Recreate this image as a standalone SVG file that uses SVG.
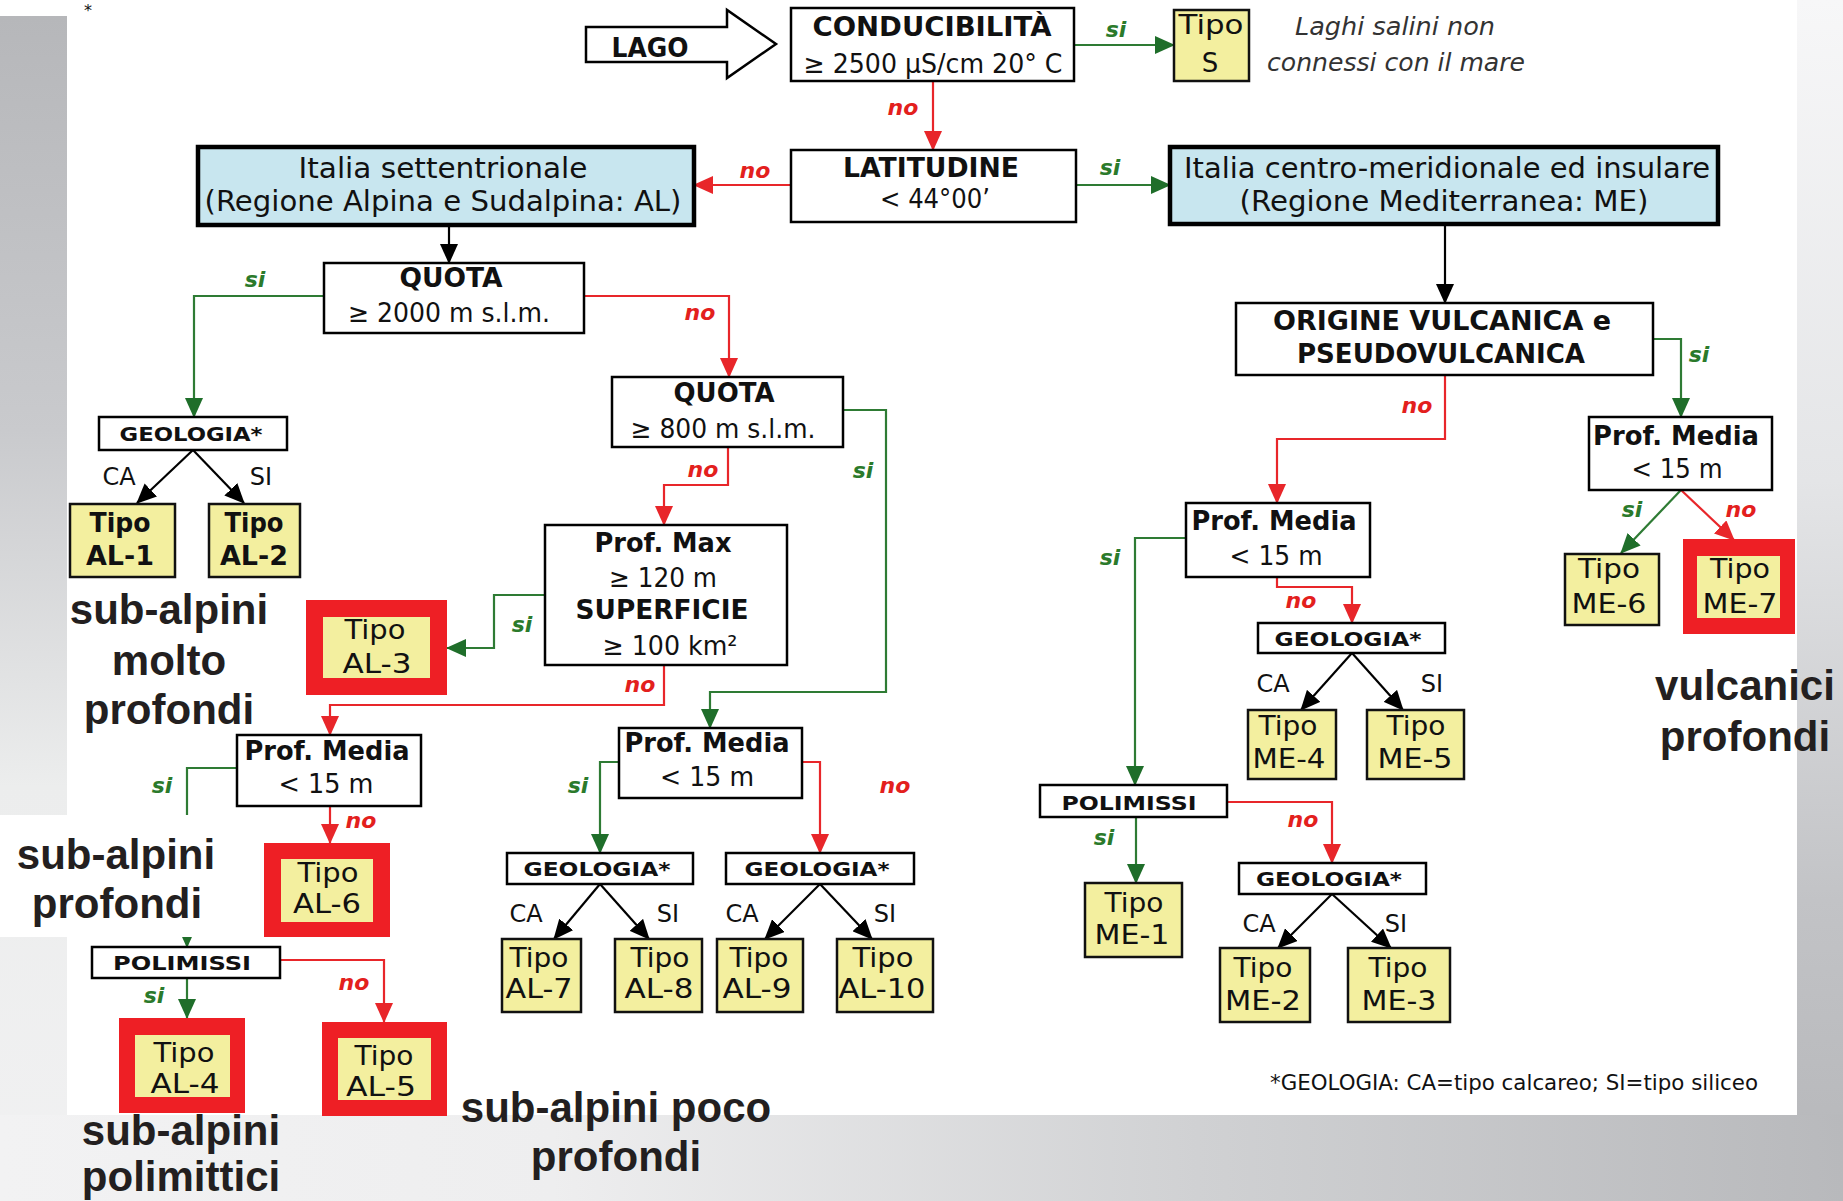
<svg xmlns="http://www.w3.org/2000/svg" width="1843" height="1201" viewBox="0 0 1843 1201">
<defs>
<linearGradient id="gl" x1="0" y1="16" x2="0" y2="1201" gradientUnits="userSpaceOnUse">
<stop offset="0" stop-color="#b6b7ba"/><stop offset="0.35" stop-color="#c9cacd"/><stop offset="0.65" stop-color="#eceded"/><stop offset="1" stop-color="#f1f1f2"/>
</linearGradient>
<linearGradient id="gr" x1="0" y1="0" x2="0" y2="1201" gradientUnits="userSpaceOnUse">
<stop offset="0" stop-color="#f7f7f8"/><stop offset="0.4" stop-color="#e4e5e7"/><stop offset="0.75" stop-color="#c2c3c6"/><stop offset="1" stop-color="#b5b6b9"/>
</linearGradient>
<linearGradient id="gb" x1="0" y1="0" x2="1843" y2="0" gradientUnits="userSpaceOnUse">
<stop offset="0" stop-color="#f2f2f3"/><stop offset="0.3" stop-color="#eeeeef"/><stop offset="0.65" stop-color="#d0d1d3"/><stop offset="1" stop-color="#b8b9bc"/>
</linearGradient>
<marker id="ag" markerUnits="userSpaceOnUse" markerWidth="20" markerHeight="18" viewBox="0 0 20 18" refX="19" refY="9" orient="auto"><path d="M0,0L20,9L0,18z" fill="#1f6e2a"/></marker>
<marker id="ar" markerUnits="userSpaceOnUse" markerWidth="20" markerHeight="18" viewBox="0 0 20 18" refX="19" refY="9" orient="auto"><path d="M0,0L20,9L0,18z" fill="#e8262a"/></marker>
<marker id="ak" markerUnits="userSpaceOnUse" markerWidth="20" markerHeight="18" viewBox="0 0 20 18" refX="19" refY="9" orient="auto"><path d="M0,0L20,9L0,18z" fill="#000"/></marker>
</defs>
<style>
.box{fill:#fff;stroke:#000;stroke-width:2.5}
.blue{fill:#c8e6ef;stroke:#000;stroke-width:4.5}
.yel{fill:#f3ef9f;stroke:#111;stroke-width:2.5}
.yin{fill:#f3ef9f}
.redb{fill:#ee1f25}
.t{font-family:"DejaVu Sans",Verdana,sans-serif;font-size:26px;fill:#111;text-anchor:middle}
.b{font-weight:bold}
.it{font-style:italic;fill:#333;font-size:24px}
.tp{font-size:27px}
.sm{font-size:20px;font-weight:bold}
.ca{font-size:24px}
.ft{font-size:21px}
.big{font-size:28px}
.si{font-family:"DejaVu Sans",Verdana,sans-serif;font-weight:bold;font-style:italic;font-size:22px;fill:#2b7a2b;text-anchor:middle}
.no{font-family:"DejaVu Sans",Verdana,sans-serif;font-weight:bold;font-style:italic;font-size:22px;fill:#e3201d;text-anchor:middle}
.g{stroke:#2e7b34;stroke-width:2.2;fill:none;marker-end:url(#ag)}
.r{stroke:#e8262a;stroke-width:2.2;fill:none;marker-end:url(#ar)}
.k{stroke:#000;stroke-width:2.2;fill:none;marker-end:url(#ak)}
.lab{font-family:"Liberation Sans",Arial,sans-serif;font-weight:bold;font-size:42px;fill:#231f20;text-anchor:middle}
</style>
<!-- background -->
<rect x="0" y="0" width="1843" height="1201" fill="#ffffff"/>
<rect x="0" y="16" width="67" height="1185" fill="url(#gl)"/>
<rect x="1797" y="0" width="46" height="1201" fill="url(#gr)"/>
<rect x="0" y="1115" width="1843" height="86" fill="url(#gb)"/>
<text x="88" y="16" font-family="DejaVu Sans,sans-serif" font-size="16" fill="#111" text-anchor="middle">*</text>

<g id="connectors">
<path class="g" d="M1074,45H1174"/>
<path class="r" d="M933,81V150"/>
<path class="g" d="M1076,185H1170"/>
<path class="r" d="M791,185H694"/>
<path class="k" d="M449,225V263"/>
<path class="k" d="M1445,224V303"/>
<path class="g" d="M324,296H194V417"/>
<path class="r" d="M584,296H729V377"/>
<path class="k" d="M193,450L137,503"/>
<path class="k" d="M193,450L244,503"/>
<path class="r" d="M728,447V485H664V525"/>
<path class="g" d="M843,410H886V692H710V728"/>
<path class="g" d="M545,595H494V648H447"/>
<path class="r" d="M664,665V705H330V735"/>
<path class="g" d="M237,768H187V947"/>
<path class="r" d="M330,806V843"/>
<path class="g" d="M187,978V1018"/>
<path class="r" d="M280,960H384V1022"/>
<path class="g" d="M619,762H600V853"/>
<path class="r" d="M802,762H820V853"/>
<path class="k" d="M600,884L554,939"/>
<path class="k" d="M600,884L649,939"/>
<path class="k" d="M820,884L765,939"/>
<path class="k" d="M820,884L872,939"/>
<path class="g" d="M1653,339H1681V417"/>
<path class="r" d="M1445,375V439H1277V503"/>
<path class="g" d="M1681,490L1621,553"/>
<path class="r" d="M1681,490L1734,540"/>
<path class="g" d="M1186,538H1135V785"/>
<path class="r" d="M1277,577V587H1352V623"/>
<path class="k" d="M1352,653L1301,710"/>
<path class="k" d="M1352,653L1403,710"/>
<path class="g" d="M1136,817V883"/>
<path class="r" d="M1227,802H1332V863"/>
<path class="k" d="M1332,894L1278,948"/>
<path class="k" d="M1332,894L1391,948"/>
<text class="si" x="1116" y="37">si</text>
<text class="no" x="903" y="115">no</text>
<text class="si" x="1110" y="175">si</text>
<text class="no" x="755" y="178">no</text>
<text class="si" x="255" y="287">si</text>
<text class="no" x="700" y="320">no</text>
<text class="no" x="703" y="477">no</text>
<text class="si" x="863" y="478">si</text>
<text class="si" x="522" y="632">si</text>
<text class="no" x="640" y="692">no</text>
<text class="si" x="162" y="793">si</text>
<text class="no" x="361" y="828">no</text>
<text class="si" x="154" y="1003">si</text>
<text class="no" x="354" y="990">no</text>
<text class="si" x="578" y="793">si</text>
<text class="no" x="895" y="793">no</text>
<text class="si" x="1699" y="362">si</text>
<text class="no" x="1417" y="413">no</text>
<text class="si" x="1632" y="517">si</text>
<text class="no" x="1741" y="517">no</text>
<text class="si" x="1110" y="565">si</text>
<text class="no" x="1301" y="608">no</text>
<text class="si" x="1104" y="845">si</text>
<text class="no" x="1303" y="827">no</text>
<text class="t ca" x="119" y="485">CA</text>
<text class="t ca" x="261" y="485">SI</text>
<text class="t ca" x="526" y="922">CA</text>
<text class="t ca" x="668" y="922">SI</text>
<text class="t ca" x="742" y="922">CA</text>
<text class="t ca" x="885" y="922">SI</text>
<text class="t ca" x="1273" y="692">CA</text>
<text class="t ca" x="1432" y="692">SI</text>
<text class="t ca" x="1259" y="932">CA</text>
<text class="t ca" x="1396" y="932">SI</text>
</g>

<!-- white label backing -->
<rect x="0" y="815" width="262" height="122" fill="#ffffff"/>

<g id="lago">
<polygon points="586,27 727,27 727,10 776,44 727,78 727,62 586,62" fill="#fff" stroke="#000" stroke-width="2.5"/>
<text class="t b" x="650" y="57" font-size="27" textLength="77" lengthAdjust="spacingAndGlyphs">LAGO</text>
</g>
<g id="conducibilita">
<rect class="box" x="791" y="8" width="283" height="73"/>
<text class="t b" x="932" y="36" textLength="239" lengthAdjust="spacingAndGlyphs">CONDUCIBILITÀ</text>
<text class="t" x="933" y="73" textLength="259" lengthAdjust="spacingAndGlyphs">≥ 2500 µS/cm 20° C</text>
</g>
<g id="tipo-s">
<rect class="yel" x="1174" y="10" width="75" height="71"/>
<text class="t" x="1211" y="34" textLength="65" lengthAdjust="spacingAndGlyphs">Tipo</text>
<text class="t" x="1210" y="72">S</text>
</g>
<g id="nota-salini">
<text class="t it" x="1395" y="35" textLength="200" lengthAdjust="spacingAndGlyphs">Laghi salini non</text>
<text class="t it" x="1396" y="71" textLength="258" lengthAdjust="spacingAndGlyphs">connessi con il mare</text>
</g>
<g id="latitudine">
<rect class="box" x="791" y="150" width="285" height="72"/>
<text class="t b" x="931" y="177" textLength="176" lengthAdjust="spacingAndGlyphs">LATITUDINE</text>
<text class="t" x="935" y="208" textLength="110" lengthAdjust="spacingAndGlyphs">&lt; 44°00’</text>
</g>
<g id="italia-sett">
<rect class="blue" x="198" y="147" width="496" height="78"/>
<text class="t big" x="443" y="178" textLength="289" lengthAdjust="spacingAndGlyphs">Italia settentrionale</text>
<text class="t big" x="443" y="211" textLength="477" lengthAdjust="spacingAndGlyphs">(Regione Alpina e Sudalpina: AL)</text>
</g>
<g id="italia-centro">
<rect class="blue" x="1170" y="147" width="548" height="77"/>
<text class="t big" x="1447" y="178" textLength="526" lengthAdjust="spacingAndGlyphs">Italia centro-meridionale ed insulare</text>
<text class="t big" x="1444" y="211" textLength="409" lengthAdjust="spacingAndGlyphs">(Regione Mediterranea: ME)</text>
</g>
<g id="quota-2000">
<rect class="box" x="324" y="263" width="260" height="70"/>
<text class="t b" x="451" y="287" textLength="103" lengthAdjust="spacingAndGlyphs">QUOTA</text>
<text class="t" x="449" y="322" textLength="202" lengthAdjust="spacingAndGlyphs">≥ 2000 m s.l.m.</text>
</g>
<g id="geologia-1">
<rect class="box" x="99" y="417" width="188" height="33"/>
<text class="t sm" x="191" y="441" textLength="143" lengthAdjust="spacingAndGlyphs">GEOLOGIA*</text>
</g>
<g id="al-1">
<rect class="yel" x="70" y="504" width="105" height="73"/>
<text class="t tp b" x="120" y="532" textLength="61" lengthAdjust="spacingAndGlyphs">Tipo</text>
<text class="t tp b" x="120" y="565" textLength="68" lengthAdjust="spacingAndGlyphs">AL-1</text>
</g>
<g id="al-2">
<rect class="yel" x="209" y="504" width="91" height="73"/>
<text class="t tp b" x="254" y="532" textLength="59" lengthAdjust="spacingAndGlyphs">Tipo</text>
<text class="t tp b" x="254" y="565" textLength="68" lengthAdjust="spacingAndGlyphs">AL-2</text>
</g>
<g id="quota-800">
<rect class="box" x="612" y="377" width="231" height="70"/>
<text class="t b" x="724" y="402" textLength="101" lengthAdjust="spacingAndGlyphs">QUOTA</text>
<text class="t" x="723" y="438" textLength="185" lengthAdjust="spacingAndGlyphs">≥ 800 m s.l.m.</text>
</g>
<g id="prof-max">
<rect class="box" x="545" y="525" width="242" height="140"/>
<text class="t b" x="663" y="552" textLength="137" lengthAdjust="spacingAndGlyphs">Prof. Max</text>
<text class="t" x="663" y="587" textLength="108" lengthAdjust="spacingAndGlyphs">≥ 120 m</text>
<text class="t b" x="662" y="619" textLength="173" lengthAdjust="spacingAndGlyphs">SUPERFICIE</text>
<text class="t" x="670" y="655" textLength="135" lengthAdjust="spacingAndGlyphs">≥ 100 km²</text>
</g>
<g id="al-3">
<rect class="redb" x="306" y="600" width="141" height="95"/>
<rect class="yin" x="323" y="617" width="107" height="61"/>
<text class="t tp" x="375" y="639" textLength="61" lengthAdjust="spacingAndGlyphs">Tipo</text>
<text class="t tp" x="377" y="673" textLength="69" lengthAdjust="spacingAndGlyphs">AL-3</text>
</g>
<g id="prof-media-al6">
<rect class="box" x="237" y="735" width="184" height="71"/>
<text class="t b" x="327" y="760" textLength="165" lengthAdjust="spacingAndGlyphs">Prof. Media</text>
<text class="t" x="326" y="793" textLength="95" lengthAdjust="spacingAndGlyphs">&lt; 15 m</text>
</g>
<g id="al-6">
<rect class="redb" x="264" y="843" width="126" height="94"/>
<rect class="yin" x="281" y="859" width="92" height="63"/>
<text class="t tp" x="328" y="882" textLength="61" lengthAdjust="spacingAndGlyphs">Tipo</text>
<text class="t tp" x="327" y="913" textLength="68" lengthAdjust="spacingAndGlyphs">AL-6</text>
</g>
<g id="polimissi-al">
<rect class="box" x="92" y="947" width="188" height="31"/>
<text class="t sm" x="182" y="970" textLength="138" lengthAdjust="spacingAndGlyphs">POLIMISSI</text>
</g>
<g id="al-4">
<rect class="redb" x="119" y="1018" width="126" height="95"/>
<rect class="yin" x="135" y="1035" width="95" height="62"/>
<text class="t tp" x="184" y="1062" textLength="61" lengthAdjust="spacingAndGlyphs">Tipo</text>
<text class="t tp" x="185" y="1093" textLength="69" lengthAdjust="spacingAndGlyphs">AL-4</text>
</g>
<g id="al-5">
<rect class="redb" x="322" y="1022" width="125" height="94"/>
<rect class="yin" x="338" y="1038" width="93" height="62"/>
<text class="t tp" x="384" y="1065" textLength="59" lengthAdjust="spacingAndGlyphs">Tipo</text>
<text class="t tp" x="381" y="1096" textLength="70" lengthAdjust="spacingAndGlyphs">AL-5</text>
</g>
<g id="prof-media-al7">
<rect class="box" x="619" y="728" width="183" height="70"/>
<text class="t b" x="707" y="752" textLength="165" lengthAdjust="spacingAndGlyphs">Prof. Media</text>
<text class="t" x="707" y="786" textLength="94" lengthAdjust="spacingAndGlyphs">&lt; 15 m</text>
</g>
<g id="geologia-2">
<rect class="box" x="507" y="853" width="186" height="31"/>
<text class="t sm" x="597" y="876" textLength="147" lengthAdjust="spacingAndGlyphs">GEOLOGIA*</text>
</g>
<g id="geologia-3">
<rect class="box" x="726" y="853" width="188" height="31"/>
<text class="t sm" x="817" y="876" textLength="145" lengthAdjust="spacingAndGlyphs">GEOLOGIA*</text>
</g>
<g id="al-7">
<rect class="yel" x="502" y="939" width="79" height="73"/>
<text class="t tp" x="539" y="967" textLength="59" lengthAdjust="spacingAndGlyphs">Tipo</text>
<text class="t tp" x="539" y="998" textLength="67" lengthAdjust="spacingAndGlyphs">AL-7</text>
</g>
<g id="al-8">
<rect class="yel" x="615" y="939" width="87" height="73"/>
<text class="t tp" x="660" y="967" textLength="59" lengthAdjust="spacingAndGlyphs">Tipo</text>
<text class="t tp" x="659" y="998" textLength="69" lengthAdjust="spacingAndGlyphs">AL-8</text>
</g>
<g id="al-9">
<rect class="yel" x="717" y="939" width="86" height="73"/>
<text class="t tp" x="759" y="967" textLength="59" lengthAdjust="spacingAndGlyphs">Tipo</text>
<text class="t tp" x="757" y="998" textLength="69" lengthAdjust="spacingAndGlyphs">AL-9</text>
</g>
<g id="al-10">
<rect class="yel" x="837" y="939" width="96" height="73"/>
<text class="t tp" x="883" y="967" textLength="61" lengthAdjust="spacingAndGlyphs">Tipo</text>
<text class="t tp" x="882" y="998" textLength="87" lengthAdjust="spacingAndGlyphs">AL-10</text>
</g>
<g id="origine">
<rect class="box" x="1236" y="303" width="417" height="72"/>
<text class="t b" x="1442" y="330" textLength="338" lengthAdjust="spacingAndGlyphs">ORIGINE VULCANICA e</text>
<text class="t b" x="1441" y="363" textLength="288" lengthAdjust="spacingAndGlyphs">PSEUDOVULCANICA</text>
</g>
<g id="prof-media-me6">
<rect class="box" x="1589" y="417" width="183" height="73"/>
<text class="t b" x="1676" y="445" textLength="166" lengthAdjust="spacingAndGlyphs">Prof. Media</text>
<text class="t" x="1677" y="478" textLength="91" lengthAdjust="spacingAndGlyphs">&lt; 15 m</text>
</g>
<g id="me-6">
<rect class="yel" x="1565" y="554" width="94" height="71"/>
<text class="t tp" x="1609" y="578" textLength="62" lengthAdjust="spacingAndGlyphs">Tipo</text>
<text class="t tp" x="1609" y="613" textLength="75" lengthAdjust="spacingAndGlyphs">ME-6</text>
</g>
<g id="me-7">
<rect class="redb" x="1683" y="539" width="112" height="95"/>
<rect class="yin" x="1697" y="556" width="83" height="62"/>
<text class="t tp" x="1740" y="578" textLength="60" lengthAdjust="spacingAndGlyphs">Tipo</text>
<text class="t tp" x="1740" y="613" textLength="75" lengthAdjust="spacingAndGlyphs">ME-7</text>
</g>
<g id="prof-media-me">
<rect class="box" x="1186" y="503" width="184" height="74"/>
<text class="t b" x="1274" y="530" textLength="165" lengthAdjust="spacingAndGlyphs">Prof. Media</text>
<text class="t" x="1276" y="565" textLength="93" lengthAdjust="spacingAndGlyphs">&lt; 15 m</text>
</g>
<g id="geologia-4">
<rect class="box" x="1258" y="623" width="187" height="30"/>
<text class="t sm" x="1348" y="646" textLength="147" lengthAdjust="spacingAndGlyphs">GEOLOGIA*</text>
</g>
<g id="me-4">
<rect class="yel" x="1248" y="710" width="88" height="69"/>
<text class="t tp" x="1288" y="735" textLength="59" lengthAdjust="spacingAndGlyphs">Tipo</text>
<text class="t tp" x="1289" y="768" textLength="73" lengthAdjust="spacingAndGlyphs">ME-4</text>
</g>
<g id="me-5">
<rect class="yel" x="1367" y="710" width="97" height="69"/>
<text class="t tp" x="1416" y="735" textLength="59" lengthAdjust="spacingAndGlyphs">Tipo</text>
<text class="t tp" x="1415" y="768" textLength="75" lengthAdjust="spacingAndGlyphs">ME-5</text>
</g>
<g id="polimissi-me">
<rect class="box" x="1040" y="785" width="187" height="32"/>
<text class="t sm" x="1129" y="810" textLength="135" lengthAdjust="spacingAndGlyphs">POLIMISSI</text>
</g>
<g id="me-1">
<rect class="yel" x="1085" y="883" width="97" height="74"/>
<text class="t tp" x="1134" y="912" textLength="59" lengthAdjust="spacingAndGlyphs">Tipo</text>
<text class="t tp" x="1132" y="944" textLength="75" lengthAdjust="spacingAndGlyphs">ME-1</text>
</g>
<g id="geologia-5">
<rect class="box" x="1239" y="863" width="187" height="31"/>
<text class="t sm" x="1329" y="886" textLength="146" lengthAdjust="spacingAndGlyphs">GEOLOGIA*</text>
</g>
<g id="me-2">
<rect class="yel" x="1220" y="948" width="90" height="74"/>
<text class="t tp" x="1263" y="977" textLength="59" lengthAdjust="spacingAndGlyphs">Tipo</text>
<text class="t tp" x="1263" y="1010" textLength="76" lengthAdjust="spacingAndGlyphs">ME-2</text>
</g>
<g id="me-3">
<rect class="yel" x="1348" y="948" width="102" height="74"/>
<text class="t tp" x="1398" y="977" textLength="59" lengthAdjust="spacingAndGlyphs">Tipo</text>
<text class="t tp" x="1399" y="1010" textLength="75" lengthAdjust="spacingAndGlyphs">ME-3</text>
</g>
<g id="footnote">
<text class="t ft" x="1514" y="1090" textLength="488" lengthAdjust="spacingAndGlyphs">*GEOLOGIA: CA=tipo calcareo; SI=tipo siliceo</text>
</g>
<g id="labels">
<text class="lab" x="169" y="624">sub-alpini</text>
<text class="lab" x="169" y="675">molto</text>
<text class="lab" x="169" y="724">profondi</text>
<text class="lab" x="116" y="869">sub-alpini</text>
<text class="lab" x="117" y="918">profondi</text>
<text class="lab" x="181" y="1145">sub-alpini</text>
<text class="lab" x="181" y="1191">polimittici</text>
<text class="lab" x="616" y="1122">sub-alpini poco</text>
<text class="lab" x="616" y="1171">profondi</text>
<text class="lab" x="1745" y="700">vulcanici</text>
<text class="lab" x="1745" y="751">profondi</text>
</g>
</svg>
